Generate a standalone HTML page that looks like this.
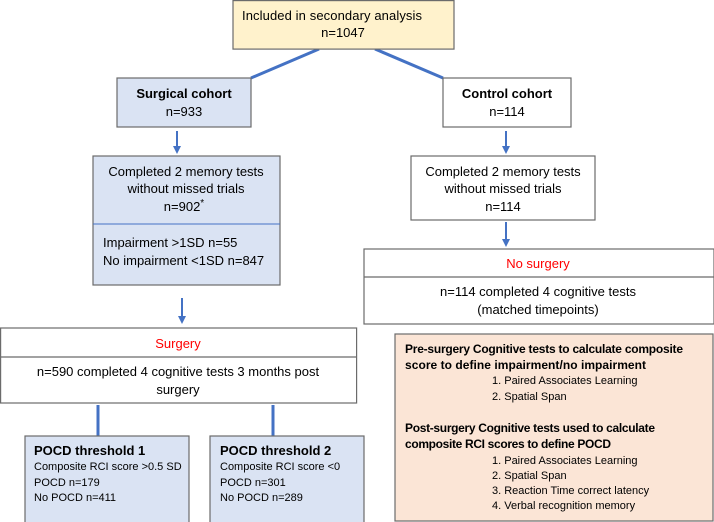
<!DOCTYPE html>
<html><head><meta charset="utf-8"><style>
html,body{margin:0;padding:0;background:#fff;}
svg{display:block;font-family:"Liberation Sans",sans-serif;}
</style></head><body>
<svg width="714" height="522" viewBox="0 0 714 522" xmlns="http://www.w3.org/2000/svg">
<defs><marker id="a" markerWidth="8" markerHeight="8" refX="4" refY="4" orient="auto" markerUnits="userSpaceOnUse"><path d="M0,0 L8,4 L0,8 z" fill="#4472c4"/></marker></defs>
<g stroke="#4472c4" stroke-width="3" fill="none">
<line x1="319" y1="49" x2="251" y2="78"/>
<line x1="375" y1="49" x2="443" y2="78"/>
<line x1="177" y1="131" x2="177" y2="150" stroke-width="2" marker-end="url(#a)"/>
<line x1="506" y1="131" x2="506" y2="150" stroke-width="2" marker-end="url(#a)"/>
<line x1="506" y1="222" x2="506" y2="243" stroke-width="2" marker-end="url(#a)"/>
<line x1="182" y1="298" x2="182" y2="320" stroke-width="2" marker-end="url(#a)"/>
<line x1="98" y1="405" x2="98" y2="436"/>
<line x1="273" y1="405" x2="273" y2="436"/>
</g>
<g stroke="#6b6b6b" stroke-width="1.2">
<rect x="233" y="0.6" width="221" height="48.5" fill="#fff2cc"/>
<rect x="117" y="78" width="134" height="49" fill="#dae3f3"/>
<rect x="443" y="78" width="128" height="49" fill="#fff"/>
<rect x="93" y="156" width="187" height="129" fill="#dae3f3"/>
<rect x="411" y="156" width="184" height="64" fill="#fff"/>
<rect x="364" y="249" width="350" height="75" fill="#fff"/>
<line x1="364" y1="277" x2="714" y2="277"/>
<rect x="0.6" y="328" width="356" height="75" fill="#fff"/>
<line x1="0" y1="357" x2="356" y2="357"/>
<rect x="25" y="436" width="164" height="90" fill="#dae3f3"/>
<rect x="210" y="436" width="154" height="90" fill="#dae3f3"/>
<rect x="395" y="334" width="318" height="187" fill="#fbe5d6"/>
</g>
<line x1="93" y1="224" x2="280" y2="224" stroke="#4472c4" stroke-width="1"/>
<g font-size="13" fill="#000" text-anchor="middle">
<text x="332" y="20" textLength="180">Included in secondary analysis</text>
<text x="343" y="37">n=1047</text>
<text x="184" y="98" font-weight="bold">Surgical cohort</text>
<text x="184" y="116">n=933</text>
<text x="507" y="98" font-weight="bold">Control cohort</text>
<text x="507" y="116">n=114</text>
<text x="186" y="176">Completed 2 memory tests</text>
<text x="186" y="193">without missed trials</text>
<text x="184" y="211">n=902<tspan font-size="10" dy="-5">*</tspan></text>
<text x="503" y="176">Completed 2 memory tests</text>
<text x="503" y="193">without missed trials</text>
<text x="503" y="211">n=114</text>
<text x="538" y="268" fill="#ff0000">No surgery</text>
<text x="538" y="296">n=114 completed 4 cognitive tests</text>
<text x="538" y="314">(matched timepoints)</text>
<text x="178" y="348" fill="#ff0000">Surgery</text>
<text x="178" y="376">n=590 completed 4 cognitive tests 3 months post</text>
<text x="178" y="394">surgery</text>
</g>
<g font-size="13" fill="#000">
<text x="103" y="247">Impairment &gt;1SD n=55</text>
<text x="103" y="265">No impairment &lt;1SD n=847</text>
<text x="34" y="455" font-weight="bold">POCD threshold 1</text>
<text x="220" y="455" font-weight="bold">POCD threshold 2</text>
</g>
<g font-size="11" fill="#000">
<text x="34" y="470">Composite RCI score &gt;0.5 SD</text>
<text x="34" y="486">POCD n=179</text>
<text x="34" y="501">No POCD n=411</text>
<text x="220" y="470">Composite RCI score &lt;0</text>
<text x="220" y="486">POCD n=301</text>
<text x="220" y="501">No POCD n=289</text>
</g>
<g font-size="12" font-weight="bold" fill="#000">
<text x="405" y="353" textLength="278">Pre-surgery Cognitive tests to calculate composite</text>
<text x="405" y="369" textLength="241">score to define impairment/no impairment</text>
<text x="405" y="432" textLength="250">Post-surgery Cognitive tests used to calculate</text>
<text x="405" y="448" textLength="206">composite RCI scores to define POCD</text>
</g>
<g font-size="11" fill="#000">
<text x="492" y="384">1. Paired Associates Learning</text>
<text x="492" y="400">2. Spatial Span</text>
<text x="492" y="464">1. Paired Associates Learning</text>
<text x="492" y="479">2. Spatial Span</text>
<text x="492" y="494">3. Reaction Time correct latency</text>
<text x="492" y="509">4. Verbal recognition memory</text>
</g>
</svg>
</body></html>
